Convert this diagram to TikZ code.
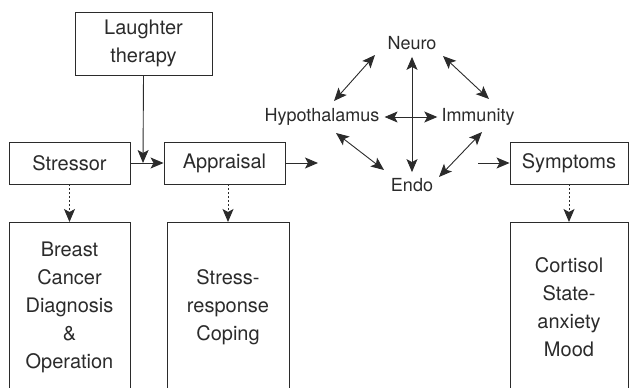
\documentclass[tikz,border=0pt]{standalone}
\usepackage{fontspec}
\setmainfont{TeX Gyre Heros}
\usetikzlibrary{arrows.meta}
\definecolor{ink}{HTML}{2B2B2B}
\begin{document}
\begin{tikzpicture}[x=1pt,y=-1pt,
  box/.style={draw=ink,line width=0.9pt,text=ink,align=center,inner sep=0pt,
    font=\fontsize{20}{28}\selectfont},
  lbl/.style={text=ink,inner sep=0pt,font=\fontsize{18}{22}\selectfont},
  tip/.tip={Stealth[length=13pt,width=11pt,inset=3pt]},
  arr/.style={draw=ink,line width=0.9pt,-tip},
  darr/.style={arr,dash pattern=on 2pt off 2pt},
  barr/.style={draw=ink,line width=0.9pt,tip-tip}]
\useasboundingbox (0,0) rectangle (632,388);
% top row boxes
\node[box,minimum width=137pt,minimum height=63pt] (laugh) at (143.5,43.5) {Laughter\\therapy};
\node[box,minimum width=121pt,minimum height=42pt] (stress) at (69.5,163) {Stressor};
\node[box,minimum width=121pt,minimum height=42pt] (appr) at (224.5,163) {Appraisal};
\node[box,minimum width=118pt,minimum height=42pt] (symp) at (569,163) {Symptoms};
% bottom boxes (bottom edge at page edge)
\node[box,minimum width=121pt,minimum height=170pt,anchor=north] (breast) at (69.5,222) {Breast\\Cancer\\Diagnosis\\\&\\Operation};
\node[box,minimum width=122pt,minimum height=170pt,anchor=north] (cope) at (228,222) {Stress-\\response\\Coping};
\node[box,minimum width=118pt,minimum height=170pt,anchor=north] (cort) at (569,222) {Cortisol\\State-\\anxiety\\Mood};
% network labels
\node[lbl] (neuro) at (412,43) {Neuro};
\node[lbl] (hypo) at (322,117) {Hypothalamus};
\node[lbl] (immu) at (478,117) {Immunity};
\node[lbl] (endo) at (412,185) {Endo};
% junction points
\coordinate (j) at (143,163);
\coordinate (aout) at (318,163);
\coordinate (sin) at (478,163);
\coordinate (nh1) at (375,55); \coordinate (nh2) at (334,101);
\coordinate (ni1) at (443,56); \coordinate (ni2) at (489,99);
\coordinate (he1) at (336,133); \coordinate (he2) at (384,170);
\coordinate (ie1) at (482,132); \coordinate (ie2) at (439,177);
% connectors
\draw[arr] (laugh.south) -- (j);
\draw[arr] (stress.east) -- (appr.west);
\draw[arr] (appr.east) -- (aout);
\draw[arr] (sin) -- (symp.west);
\draw[darr] (stress.south) -- (breast.north);
\draw[darr] (cope.north |- appr.south) -- (cope.north);
\draw[darr] (symp.south) -- (cort.north);
\draw[barr] ([yshift=-7pt]neuro.south) -- ([yshift=6pt]endo.north);
\draw[barr] ([xshift=5pt]hypo.east) -- ([xshift=-4pt]immu.west);
\draw[barr] (nh1) -- (nh2);
\draw[barr] (ni1) -- (ni2);
\draw[barr] (he1) -- (he2);
\draw[barr] (ie1) -- (ie2);
\end{tikzpicture}
\end{document}
